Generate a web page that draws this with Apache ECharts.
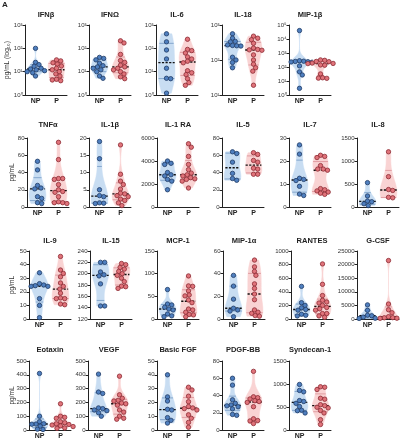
<!DOCTYPE html>
<html><head><meta charset="utf-8">
<script src="https://cdn.jsdelivr.net/npm/echarts@6/dist/echarts.min.js"></script>
<style>html,body{margin:0;padding:0;background:#fff}#c{width:400px;height:440px}</style>
</head><body><div id="c"></div>
<script>
// ---------- data ----------
const groupNames = ['NP', 'P'];
const panelTitles = ['IFNβ','IFNΩ','IL-6','IL-18','MIP-1β','TNFα','IL-1β','IL-1 RA','IL-5','IL-7','IL-8','IL-9','IL-15','MCP-1','MIP-1α','RANTES','G-CSF','Eotaxin','VEGF','Basic FGF','PDGF-BB','Syndecan-1'];
const logAxis = [true,true,true,true,true, false,false,false,false,false,false, false,false,false,false,false,false, false,false,false,false,false];
const yMin = [1,1,1,10,1, 0,0,0,0,0,0, 0,120,0,0,0,0, 0,0,0,0,0];
const yMax = [1000,1000,1000,1000,100000, 80,20,6000,80,30,1500, 50,240,150,60,1000,25000, 500,500,50,80,1500];
const yStep = [null,null,null,null,null, 20,5,2000,20,10,500, 10,20,50,20,200,5000, 100,100,10,20,500];

const ifnbNP = [100, 25, 20, 17, 14, 13, 12, 11, 10, 9, 6.5];
const ifnbP = [32, 29, 24, 21, 17.5, 14, 12, 10, 8, 6.5, 4.7, 4.4, 4.1];
const ifnoNP = [41, 37, 32, 23, 18, 16, 14, 12, 10, 6.5, 5.2];
const ifnoP = [210, 170, 55, 30, 25, 19, 16, 14, 12, 10, 8, 6, 5];
const il6NP = [420, 190, 85, 35, 14, 5, 5.2, 1.2];
const il6P = [245, 90, 80, 63, 43, 35, 28, 24, 11, 9, 7.5, 5, 3.4, 2.6];
const il18NP = [560, 420, 340, 330, 270, 260, 255, 250, 120, 100, 85, 60];
const il18P = [480, 420, 380, 300, 220, 200, 195, 190, 140, 100, 76, 60, 48, 19];
const mip1bNP = [40000, 280, 260, 250, 240, 230, 220, 120, 45, 27, 3];
const mip1bP = [320, 300, 250, 240, 190, 180, 175, 140, 135, 32, 17, 16, 15.5];
const tnfNP = [53, 43, 25, 22, 21, 12, 10, 5, 4];
const tnfP = [75, 55, 33, 33, 32, 26, 20, 18, 17, 12, 6, 5, 5, 4];
const il1bNP = [19, 14, 5, 3.3, 3, 1.2, 1.1, 1.0];
const il1bP = [18, 9.5, 7.5, 6.5, 5.2, 4, 3.8, 3.3, 3, 2.3, 1.9, 1.2, 0.4];
const il1raNP = [4000, 3800, 3700, 3000, 2800, 2700, 2400, 2250, 1500];
const il1raP = [5500, 5200, 4400, 3700, 3250, 2950, 2800, 2700, 2550, 2450, 2400, 2250, 1650];
const il5NP = [64, 62, 52, 39, 33, 31];
const il5P = [63, 61, 54, 52, 45, 44, 38, 38];
const il7NP = [27, 23, 12.5, 12, 11.5, 9, 5.6, 5];
const il7P = [22.5, 22, 21.5, 18, 16.5, 16.5, 16, 8, 7.5, 7, 6.5, 6, 5.5];
const il8NP = [530, 240, 130, 115, 70, 30];
const il8P = [1200, 660, 380, 360, 210, 200];
const il9NP = [34, 26, 25, 24.5, 24, 24, 15, 10, 1];
const il9P = [46, 36, 33.5, 31, 26.5, 24, 22, 19, 15.5, 15, 15, 11, 10.5];
const il15NP = [220, 220, 203, 198, 196, 182, 143, 143];
const il15P = [218, 216, 211, 208, 204, 200, 197, 192, 186, 178, 177, 174];
const mcp1NP = [65, 33, 31, 26, 22, 20, 11, 7, 5];
const mcp1P = [95, 73, 72, 62, 53, 51, 42, 36, 22, 20, 15, 10, 9, 5];
const mip1aNP = [38.5, 29, 17.5, 9.5, 8, 7, 2];
const mip1aP = [52, 46, 42, 38.5, 31, 27, 22, 17, 8, 6, 5, 3, 2.5];
const rantesNP = [480, 240, 200, 165, 140, 130, 70, 55, 45];
const rantesP = [810, 510, 345, 275, 250, 235, 200, 170, 150, 130, 80, 80, 45, 25];
const gcsfNP = [5200, 3200, 1400, 1200, 700, 300, 200];
const gcsfP = [21500, 5500, 3400, 2300, 850, 500, 450, 300, 250];
const eotaxinNP = [410, 100, 60, 45, 43, 42, 28, 6, 4];
const eotaxinP = [190, 100, 92, 85, 60, 53, 45, 40, 36, 30, 25, 15, 12];
const vegfNP = [405, 275, 265, 160, 155, 145, 140, 125, 100];
const vegfP = [390, 255, 230, 215, 210, 195, 190, 180, 145, 130, 100, 85, 78];
const bfgfNP = [40, 24, 21, 15, 14.5, 9, 7, 5];
const bfgfP = [31, 29, 24.5, 20.5, 17, 16, 15.5, 14.5, 11, 8.5, 5.5, 2];
const pdgfNP = [60, 52, 35, 31, 29, 28, 27, 24.5, 18, 17];
const pdgfP = [68, 38.5, 37.5, 36, 34, 33, 32, 27, 13, 11, 10.5, 7.5];
const sdc1NP = [990, 860, 830, 640, 620, 580, 510, 430, 420, 370];
const sdc1P = [940, 930, 880, 690, 670, 550, 530, 495, 480, 425, 370, 225, 120];

const panelData = [
  [ifnbNP, ifnbP], [ifnoNP, ifnoP], [il6NP, il6P], [il18NP, il18P], [mip1bNP, mip1bP],
  [tnfNP, tnfP], [il1bNP, il1bP], [il1raNP, il1raP], [il5NP, il5P], [il7NP, il7P], [il8NP, il8P],
  [il9NP, il9P], [il15NP, il15P], [mcp1NP, mcp1P], [mip1aNP, mip1aP], [rantesNP, rantesP], [gcsfNP, gcsfP],
  [eotaxinNP, eotaxinP], [vegfNP, vegfP], [bfgfNP, bfgfP], [pdgfNP, pdgfP], [sdc1NP, sdc1P]
];

// ---------- layout ----------
const rowCounts = [5, 6, 6, 5];
const rowTop = [25, 138, 251, 361];
const rowBottom = [95, 207, 319, 430];
const colX = [[25, 89, 156, 222, 289], [27, 89, 157, 222, 289, 357], [29, 90, 157, 223, 291, 357], [29, 88, 157, 222, 289]];
const titleY = [15, 125, 241, 350];
const FONT = '"Liberation Sans", Arial, sans-serif';

const colors = [
  {violin: '#c8ddf2', quart: '#7399c4', fill: '#4f7fbf', stroke: '#1f3b66'},
  {violin: '#f9d3d3', quart: '#d98f95', fill: '#e0737a', stroke: '#8c2b33'}
];

const sup = {'0':'⁰','1':'¹','2':'²','3':'³','4':'⁴','5':'⁵','6':'⁶','-':'⁻'};
function logLabel(v) { const e = Math.round(Math.log10(v)); return '10' + String(e).split('').map(c => sup[c]).join(''); }

function quantile(sorted, p) {
  const n = sorted.length; const r = p * (n + 1);
  if (r <= 1) return sorted[0];
  if (r >= n) return sorted[n - 1];
  const lo = Math.floor(r);
  return sorted[lo - 1] + (r - lo) * (sorted[lo] - sorted[lo - 1]);
}

function buildShape(vals, isLog) {
  const t = vals.map(v => isLog ? Math.log10(v) : v).sort((a, b) => a - b);
  const n = t.length;
  const mean = t.reduce((a, b) => a + b, 0) / n;
  const sd = Math.sqrt(t.reduce((a, b) => a + (b - mean) * (b - mean), 0) / (n - 1));
  const iqr = quantile(t, 0.75) - quantile(t, 0.25);
  let spread = Math.min(sd, iqr / 1.34);
  if (!(spread > 0)) spread = sd;
  let h = 0.9 * spread * Math.pow(n, -0.2);
  if (!(h > 0)) h = 1;
  const lo = t[0], hi = t[n - 1];
  const N = 60; const pts = [];
  let mx = 0;
  for (let i = 0; i <= N; i++) {
    const x = lo + (hi - lo) * i / N;
    let d = 0;
    for (const ti of t) { const z = (x - ti) / h; d += Math.exp(-0.5 * z * z); }
    pts.push([x, d]); if (d > mx) mx = d;
  }
  pts.forEach(p => p[1] /= mx);
  return pts;
}
function widthAt(shape, x) {
  if (x <= shape[0][0]) return shape[0][1];
  for (let i = 1; i < shape.length; i++) {
    if (x <= shape[i][0]) {
      const a = shape[i - 1], b = shape[i];
      const f = (b[0] - a[0]) ? (x - a[0]) / (b[0] - a[0]) : 0;
      return a[1] + f * (b[1] - a[1]);
    }
  }
  return shape[shape.length - 1][1];
}

const shapes = panelData.map((pd, i) => pd.map(v => buildShape(v, logAxis[i])));

function makeRender(pi) {
  const isLog = logAxis[pi];
  const inv = t => isLog ? Math.pow(10, t) : t;
  const tf = v => isLog ? Math.log10(v) : v;
  return function (params, api) {
    const g = api.value(0);
    const vals = panelData[pi][g];
    const shape = shapes[pi][g];
    const col = colors[g];
    const band = api.size([1, 0])[0];
    const maxHW = band * 0.4;
    const cx = api.coord([g, vals[0]])[0];
    const right = [], left = [];
    shape.forEach(([t, d]) => {
      const y = api.coord([g, inv(t)])[1];
      right.push([cx + d * maxHW, y]);
      left.push([cx - d * maxHW, y]);
    });
    const children = [];
    children.push({type: 'polygon', shape: {points: right.concat(left.reverse())}, style: {fill: col.violin, stroke: col.violin, lineWidth: 0.5}});
    const sorted = vals.slice().sort((a, b) => a - b);
    [0.25, 0.75].forEach(p => {
      const q = quantile(sorted, p);
      const w = widthAt(shape, tf(q)) * maxHW;
      const y = api.coord([g, q])[1];
      children.push({type: 'line', shape: {x1: cx - w, y1: y, x2: cx + w, y2: y}, style: {stroke: col.quart, lineWidth: 0.8}});
    });
    // points (beeswarm in pixel space)
    const D = 4.1, R = 2.2, step = 0.7;
    const ys = vals.map(v => api.coord([g, v])[1]).sort((a, b) => a - b);
    const placed = [];
    ys.forEach(y => {
      let off = 0;
      for (let k = 0; k < 60; k++) {
        const cand = (k % 2 ? 1 : -1) * Math.ceil(k / 2) * step;
        let ok = true;
        for (const p of placed) {
          const dx = p[0] - cand, dy = p[1] - y;
          if (dx * dx + dy * dy < D * D) { ok = false; break; }
        }
        if (ok) { off = cand; break; }
      }
      placed.push([off, y]);
    });
    const med = quantile(sorted, 0.5);
    const mw = widthAt(shape, tf(med)) * maxHW;
    const my = api.coord([g, med])[1];
    children.push({type: 'line', shape: {x1: cx - Math.max(mw, 5), y1: my, x2: cx + Math.max(mw, 5), y2: my}, style: {stroke: '#111', lineWidth: 1.4, lineDash: [2.2, 1.4]}});
    placed.forEach(p => {
      children.push({type: 'circle', shape: {cx: cx + p[0], cy: p[1], r: R}, style: {fill: col.fill, stroke: col.stroke, lineWidth: 0.8}});
    });
    return {type: 'group', children};
  };
}

// ---------- build option ----------
const grids = [], xAxes = [], yAxes = [], series = [], graphics = [];
let idx = 0;
rowCounts.forEach((cnt, r) => {
  for (let c = 0; c < cnt; c++) {
    const i = idx++;
    const left = colX[r][c];
    grids.push({left: left, top: rowTop[r], width: 42, height: rowBottom[r] - rowTop[r], containLabel: false});
    xAxes.push({
      type: 'category', gridIndex: i, data: groupNames,
      axisLine: {lineStyle: {color: '#222', width: 1}},
      axisTick: {alignWithLabel: true, length: 2.5, lineStyle: {color: '#222'}},
      axisLabel: {fontSize: 7, fontWeight: 'bold', color: '#222', margin: 3, fontFamily: FONT}
    });
    const ya = {
      gridIndex: i, min: yMin[i], max: yMax[i],
      axisLine: {show: true, lineStyle: {color: '#222', width: 1}},
      axisTick: {show: true, length: 2.5, lineStyle: {color: '#222'}},
      splitLine: {show: false},
      axisLabel: {fontSize: 6, color: '#333', margin: 2.5, fontFamily: FONT}
    };
    if (logAxis[i]) {
      ya.type = 'log'; ya.logBase = 10;
      ya.axisLabel.formatter = logLabel;
    } else {
      ya.type = 'value'; ya.interval = yStep[i];
      ya.axisLabel.formatter = v => String(v);
    }
    yAxes.push(ya);
    const pd = panelData[i];
    series.push({
      type: 'custom', xAxisIndex: i, yAxisIndex: i, renderItem: makeRender(i),
      data: pd.map((v, g) => [g, v.slice().sort((a, b) => a - b)[Math.floor(v.length / 2)]]),
      silent: true, clip: false
    });
    graphics.push({type: 'text', x: left + 21, y: titleY[r], style: {text: panelTitles[i], font: 'bold 7.5px ' + FONT, fill: '#222', align: 'center', verticalAlign: 'middle'}});
  }
  const yc = (rowTop[r] + rowBottom[r]) / 2;
  graphics.push({type: 'text', x: r === 0 ? 7 : 12, y: yc, rotation: Math.PI / 2,
    style: {text: r === 0 ? 'pg/mL (log₁₀)' : 'pg/mL', font: '6.5px ' + FONT, fill: '#333', align: 'center', verticalAlign: 'middle'}});
});
graphics.push({type: 'text', x: 2, y: 5, style: {text: 'A', font: 'bold 8px ' + FONT, fill: '#222', align: 'left', verticalAlign: 'middle'}});

const chart = echarts.init(document.getElementById('c'));
chart.setOption({
  animation: false,
  backgroundColor: '#fff',
  grid: grids, xAxis: xAxes, yAxis: yAxes, series: series, graphic: graphics
});
</script>
</body></html>
